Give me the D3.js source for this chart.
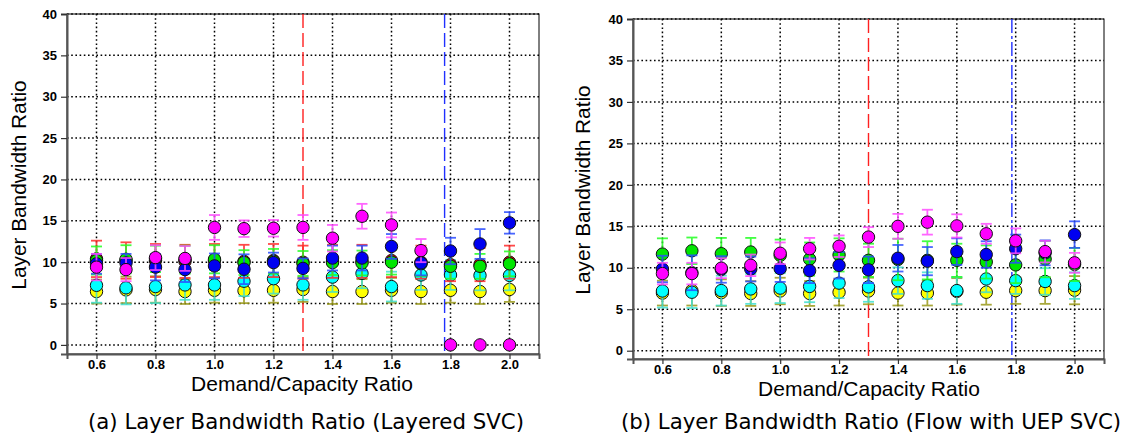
<!DOCTYPE html>
<html>
<head>
<meta charset="utf-8">
<script src="https://cdn.jsdelivr.net/npm/d3@7"></script>
<style>
  body { margin: 0; background: #fff; }
  svg { display: block; }
  .tick text { font-family: "Liberation Sans", Arial, sans-serif; font-weight: bold; font-size: 13px; fill: #000; }
</style>
</head>
<body>
<svg width="1130" height="441"></svg>
<script>
// Eje X: relación demanda/capacidad
const ratios = [0.6, 0.7, 0.8, 0.9, 1.0, 1.1, 1.2, 1.3, 1.4, 1.5, 1.6, 1.7, 1.8, 1.9, 2.0];
const xTicks = [0.6, 0.8, 1.0, 1.2, 1.4, 1.6, 1.8, 2.0];
const yTicks = [0, 5, 10, 15, 20, 25, 30, 35, 40];
const seriesNames = ["yellow", "cyan", "red", "green", "blue", "magenta"];

// (a) Layered SVC
const layeredYellow  = [6.45, 6.65, 6.7, 6.45, 6.6, 6.55, 6.6, 6.7, 6.45, 6.45, 6.6, 6.45, 6.6, 6.45, 6.7];
const layeredCyan    = [7.2, 6.9, 7.05, 7.25, 7.25, 7.7, 8.0, 7.25, 8.2, 8.65, 7.05, 8.45, 8.45, 8.4, 8.4];
const layeredRed     = [10.4, 10.2, 10.2, 10.1, 10.2, 10.1, 10.2, 10.0, 10.1, 10.1, 10.2, 10.0, 9.7, 9.7, 10.0];
const layeredGreen   = [10.2, 10.35, 10.4, 10.3, 10.35, 9.95, 10.1, 9.85, 9.95, 9.9, 10.0, 9.8, 9.5, 9.5, 9.8];
const layeredBlue    = [9.8, 9.9, 9.4, 9.1, 9.55, 9.15, 9.95, 9.25, 10.5, 10.5, 11.9, 9.9, 11.35, 12.2, 14.75];
const layeredMagenta = [9.4, 9.1, 10.55, 10.45, 14.2, 14.05, 14.1, 14.2, 12.9, 15.55, 14.5, 11.4, 0, 0, 0];

const layeredYellowErr  = [1.45, 1.6, 1.6, 1.5, 1.5, 1.5, 1.5, 1.5, 1.5, 1.5, 1.5, 1.5, 1.5, 1.5, 1.5];
const layeredCyanErr    = [2.1, 2.0, 2.0, 1.8, 1.8, 1.8, 1.8, 1.8, 1.8, 1.8, 1.8, 1.8, 1.8, 1.8, 1.8];
const layeredRedErr     = [2.2, 2.2, 2.0, 2.0, 2.0, 2.0, 2.0, 2.0, 2.0, 2.0, 2.0, 2.0, 2.0, 2.0, 2.0];
const layeredGreenErr   = [1.7, 1.7, 1.6, 1.7, 1.7, 1.5, 1.5, 1.5, 1.5, 1.5, 1.5, 1.5, 1.5, 1.5, 1.5];
const layeredBlueErr    = [1.2, 1.1, 1.6, 1.5, 1.5, 1.8, 1.2, 1.2, 1.5, 1.5, 1.5, 1.5, 1.6, 1.8, 1.3];
const layeredMagentaErr = [1.6, 1.4, 1.5, 1.5, 1.5, 1.0, 1.0, 1.5, 1.6, 1.5, 1.5, 1.4, 0, 0, 0];

// (b) Flow with UEP SVC
const uepYellow  = [6.95, 7.25, 7.0, 6.9, 7.2, 6.9, 7.05, 7.2, 6.95, 6.95, 7.15, 7.05, 7.25, 7.25, 7.3];
const uepCyan    = [7.2, 7.05, 7.25, 7.45, 7.55, 7.75, 8.15, 7.7, 8.45, 7.85, 7.25, 8.65, 8.45, 8.35, 7.85];
const uepGreen   = [11.65, 12.05, 11.7, 11.9, 11.5, 11.05, 11.55, 10.9, 11.0, 10.9, 10.9, 10.7, 10.35, 11.05, 10.4];
const uepBlue    = [9.85, 9.4, 9.8, 9.85, 9.9, 9.65, 10.3, 9.75, 11.15, 10.8, 11.95, 11.6, 12.3, 11.8, 14.0];
const uepMagenta = [9.3, 9.3, 9.95, 10.3, 11.75, 12.3, 12.6, 13.7, 15.0, 15.5, 15.05, 14.1, 13.25, 11.95, 10.6];

const uepYellowErr  = [1.5, 1.8, 1.6, 1.5, 1.6, 1.5, 1.6, 1.6, 1.5, 1.5, 1.6, 1.5, 1.6, 1.6, 1.7];
const uepCyanErr    = [2.0, 1.9, 1.8, 1.8, 1.8, 1.9, 1.8, 1.8, 1.6, 1.6, 1.6, 1.6, 1.6, 1.6, 1.6];
const uepGreenErr   = [1.9, 1.6, 1.9, 1.7, 1.9, 2.0, 2.0, 2.0, 2.5, 2.3, 2.0, 2.0, 2.2, 2.2, 2.0];
const uepBlueErr    = [1.6, 2.1, 1.6, 1.5, 1.6, 1.5, 1.6, 1.6, 1.6, 1.7, 1.6, 1.6, 1.7, 1.5, 1.6];
const uepMagentaErr = [1.3, 1.3, 1.2, 1.3, 1.3, 1.3, 1.3, 1.2, 1.5, 1.5, 1.4, 1.2, 1.5, 1.3, 1.2];

// Líneas verticales de referencia
const redMark = 1.3;
const layeredBlueMark = 1.78;
const uepBlueMark = 1.787;

// Colores: relleno del punto y color de la barra de error
const fillColor = { yellow: "#ffff00", cyan: "#00ffff", red: "#ff0000", green: "#00e600", blue: "#0000f0", magenta: "#ff00ff" };
const barColor  = { yellow: "#9a9a1a", cyan: "#40e0d0", red: "#ff2a2a", green: "#22ff22", blue: "#2a4cff", magenta: "#ff4cff" };

const svg = d3.select("svg");

function drawPanel(cfg) {
  const x = d3.scaleLinear().domain([0.5, 2.1]).range([cfg.left, cfg.right]);
  const y = d3.scaleLinear().domain([cfg.yMin, 40]).range([cfg.bottom, cfg.top]);
  const g = svg.append("g");

  // rejilla punteada
  g.selectAll(".hgrid").data(yTicks).enter().append("line")
    .attr("x1", cfg.left).attr("x2", cfg.right)
    .attr("y1", d => y(d)).attr("y2", d => y(d))
    .attr("stroke", "#000").attr("stroke-width", 1.5).attr("stroke-dasharray", "1.6,2.6");
  g.selectAll(".vgrid").data(xTicks).enter().append("line")
    .attr("x1", d => x(d)).attr("x2", d => x(d))
    .attr("y1", cfg.top).attr("y2", cfg.bottom)
    .attr("stroke", "#000").attr("stroke-width", 1.5).attr("stroke-dasharray", "1.6,2.6");

  // marco
  g.append("rect")
    .attr("x", cfg.left).attr("y", cfg.top)
    .attr("width", cfg.right - cfg.left).attr("height", cfg.bottom - cfg.top)
    .attr("fill", "none").attr("stroke", "#000").attr("stroke-width", 1);

  // ejes
  const xAxis = g.append("g").attr("transform", `translate(0,${cfg.bottom})`)
    .call(d3.axisBottom(x).tickValues(xTicks).tickFormat(d3.format(".1f")).tickSize(5).tickPadding(1));
  const yAxis = g.append("g").attr("transform", `translate(${cfg.left},0)`)
    .call(d3.axisLeft(y).tickValues(yTicks).tickSize(6).tickPadding(4));
  [xAxis, yAxis].forEach(a => {
    a.select(".domain").attr("stroke", "#555").attr("stroke-width", 2);
    a.selectAll(".tick line").attr("stroke", "#333").attr("stroke-width", 1.2);
  });

  // líneas de referencia
  g.append("line")
    .attr("x1", x(redMark)).attr("x2", x(redMark))
    .attr("y1", cfg.top).attr("y2", cfg.bottom)
    .attr("stroke", "#ff2020").attr("stroke-width", 1.4).attr("stroke-dasharray", "14,5");
  g.append("line")
    .attr("x1", x(cfg.blueMark)).attr("x2", x(cfg.blueMark))
    .attr("y1", cfg.top).attr("y2", cfg.bottom)
    .attr("stroke", "#2030ff").attr("stroke-width", 1.4).attr("stroke-dasharray", cfg.blueDash);

  // series: barra de error y punto
  seriesNames.forEach(name => {
    const vals = cfg.values[name];
    if (!vals) return;
    const errs = cfg.errors[name];
    const pts = ratios.map((r, i) => ({ r: r, v: vals[i], e: errs[i] }));
    const eg = g.append("g").attr("stroke", barColor[name]).attr("stroke-width", 1.8).attr("opacity", 0.85);
    const withErr = pts.filter(d => d.e > 0);
    eg.selectAll(".stem").data(withErr).enter().append("line")
      .attr("x1", d => x(d.r)).attr("x2", d => x(d.r))
      .attr("y1", d => y(d.v - d.e)).attr("y2", d => y(d.v + d.e));
    eg.selectAll(".capTop").data(withErr).enter().append("line")
      .attr("x1", d => x(d.r) - 5.5).attr("x2", d => x(d.r) + 5.5)
      .attr("y1", d => y(d.v + d.e)).attr("y2", d => y(d.v + d.e));
    eg.selectAll(".capBot").data(withErr).enter().append("line")
      .attr("x1", d => x(d.r) - 5.5).attr("x2", d => x(d.r) + 5.5)
      .attr("y1", d => y(d.v - d.e)).attr("y2", d => y(d.v - d.e));
    g.selectAll(".dot-" + name).data(pts).enter().append("circle")
      .attr("cx", d => x(d.r)).attr("cy", d => y(d.v)).attr("r", 6.2)
      .attr("fill", fillColor[name]).attr("stroke", "#111").attr("stroke-width", 1);
  });

  // títulos
  g.append("text")
    .attr("x", cfg.xTitleX).attr("y", cfg.xTitleY)
    .attr("text-anchor", "middle")
    .style("font-family", "'Liberation Sans', Arial, sans-serif")
    .style("font-size", "21px")
    .text("Demand/Capacity Ratio");
  g.append("text")
    .attr("transform", `translate(${cfg.yTitleX},${cfg.yTitleY}) rotate(-90)`)
    .attr("text-anchor", "middle")
    .style("font-family", "'Liberation Sans', Arial, sans-serif")
    .style("font-size", "20.8px")
    .text("Layer Bandwidth Ratio");
  g.append("text")
    .attr("x", cfg.captionX).attr("y", 429)
    .attr("text-anchor", "middle")
    .style("font-family", "'DejaVu Sans', Verdana, sans-serif")
    .style("font-size", "21.3px")
    .text(cfg.caption);
}

drawPanel({
  left: 67, right: 539, top: 14, bottom: 354, yMin: -1.1,
  blueMark: layeredBlueMark, blueDash: "14,5",
  values: { yellow: layeredYellow, cyan: layeredCyan, red: layeredRed, green: layeredGreen, blue: layeredBlue, magenta: layeredMagenta },
  errors: { yellow: layeredYellowErr, cyan: layeredCyanErr, red: layeredRedErr, green: layeredGreenErr, blue: layeredBlueErr, magenta: layeredMagentaErr },
  xTitleX: 302, xTitleY: 391, yTitleX: 26, yTitleY: 185,
  captionX: 306, caption: "(a) Layer Bandwidth Ratio (Layered SVC)"
});

drawPanel({
  left: 633, right: 1104, top: 19, bottom: 359, yMin: -1,
  blueMark: uepBlueMark, blueDash: "14,3,3,3",
  values: { yellow: uepYellow, cyan: uepCyan, green: uepGreen, blue: uepBlue, magenta: uepMagenta },
  errors: { yellow: uepYellowErr, cyan: uepCyanErr, green: uepGreenErr, blue: uepBlueErr, magenta: uepMagentaErr },
  xTitleX: 869, xTitleY: 396, yTitleX: 590, yTitleY: 190,
  captionX: 871, caption: "(b) Layer Bandwidth Ratio (Flow with UEP SVC)"
});
</script>
</body>
</html>
